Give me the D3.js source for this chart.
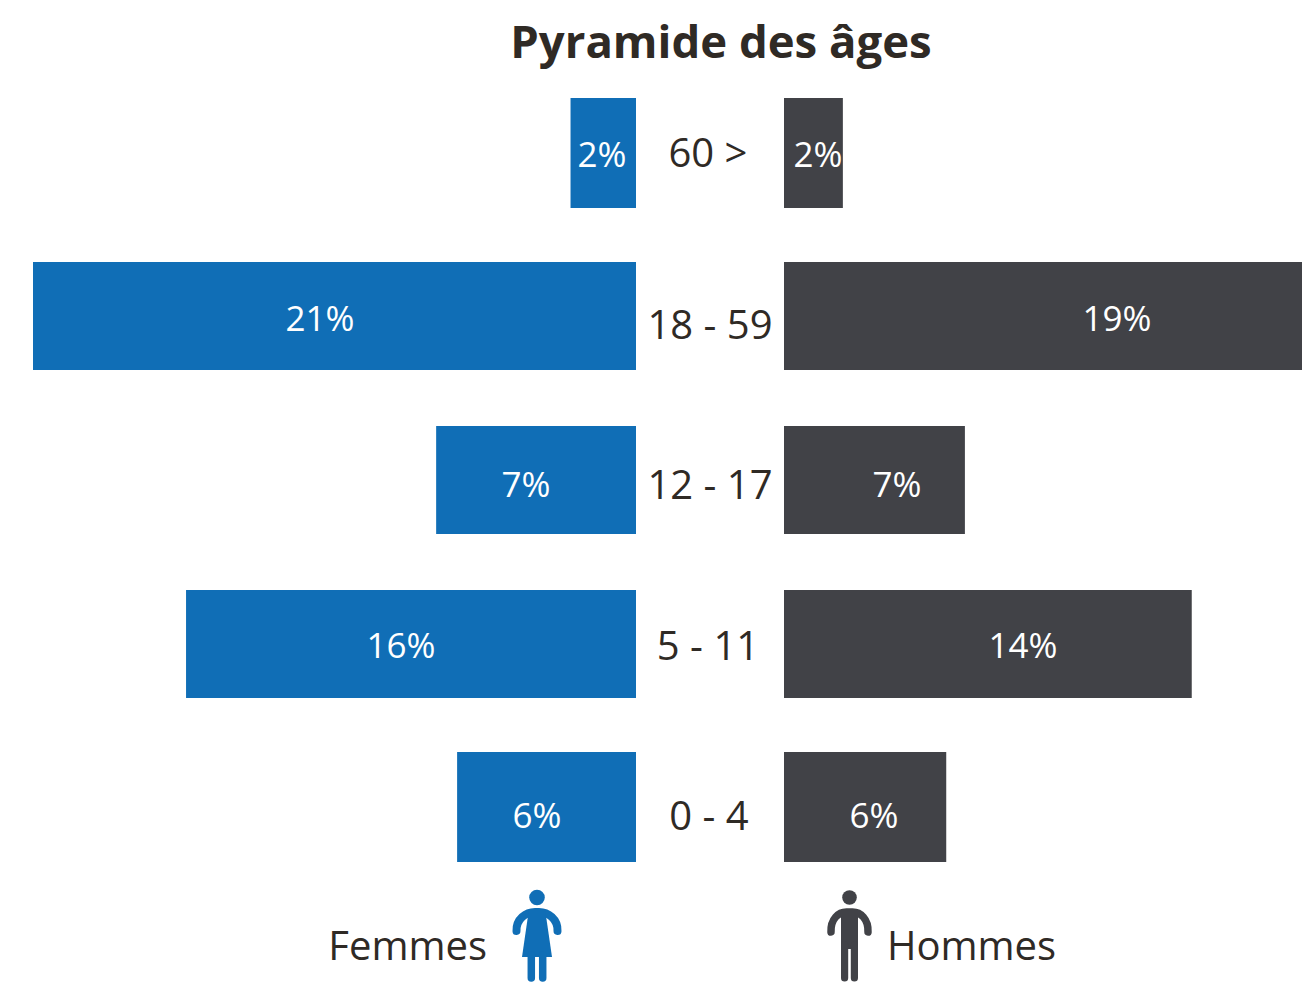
<!DOCTYPE html>
<html>
<head>
<meta charset="utf-8">
<script src="https://cdnjs.cloudflare.com/ajax/libs/d3/7.8.5/d3.min.js"></script>
<style>
  html, body { margin: 0; background: #fff; overflow: hidden; }
  svg { display: block; }
  text { font-family: "Open Sans", sans-serif; }
</style>
</head>
<body>
<div id="my_dataviz"></div>
<script>
var ages = ["60 >", "18 - 59", "12 - 17", "5 - 11", "0 - 4"];
// bar lengths, in % of population
var femmes = [2.28, 21, 6.96, 15.67, 6.23];
var hommes = [2.05, 19, 6.3, 14.2, 5.65];
// the labels as printed, they are rounded differently from the bars
var femmesLabels = ["2%", "21%", "7%", "16%", "6%"];
var hommesLabels = ["2%", "19%", "7%", "14%", "6%"];

// the original places its labels by hand: px from the centre gap, and baselines
var femmesLabelDx = [34, 316, 110, 235, 99];
var hommesLabelDx = [34, 333, 113, 239, 90];
var valueBaseline = [167, 331, 497, 658, 828];
var ageBaseline = [167, 339, 499, 660, 830];
var ageCentre = [708, 710, 710, 708, 709];

var width = 1302, height = 985;
var blue = "#106eb6", dark = "#414247", ink = "#2f2a25";
var leftEdge = 636, rightEdge = 784;

var svg = d3.select("#my_dataviz")
    .append("svg")
    .attr("width", width)
    .attr("height", height);

var y = d3.scaleBand()
    .domain(ages)
    .range([98, 862])
    .paddingInner(56 / 164)
    .paddingOuter(0);

var len = d3.scaleLinear()
    .domain([0, 21])
    .range([0, 603]);

// first and last row are 2px taller in the original
function barY(d, i) { return y(ages[i]) - (i == ages.length - 1 ? 2 : 0); }
function barH(d, i) { return y.bandwidth() + (i == 0 || i == ages.length - 1 ? 2 : 0); }

svg.append("g").selectAll("rect")
    .data(femmes)
    .join("rect")
    .attr("x", d => leftEdge - len(d))
    .attr("y", barY)
    .attr("width", d => len(d))
    .attr("height", barH)
    .attr("fill", blue);

svg.append("g").selectAll("rect")
    .data(hommes)
    .join("rect")
    .attr("x", rightEdge)
    .attr("y", barY)
    .attr("width", d => len(d))
    .attr("height", barH)
    .attr("fill", dark);

svg.append("g").selectAll("text")
    .data(femmesLabels)
    .join("text")
    .attr("x", (d, i) => leftEdge - femmesLabelDx[i])
    .attr("y", (d, i) => valueBaseline[i])
    .attr("text-anchor", "middle")
    .attr("font-size", 35)
    .attr("fill", "#fff")
    .text(d => d);

svg.append("g").selectAll("text")
    .data(hommesLabels)
    .join("text")
    .attr("x", (d, i) => rightEdge + hommesLabelDx[i])
    .attr("y", (d, i) => valueBaseline[i])
    .attr("text-anchor", "middle")
    .attr("font-size", 35)
    .attr("fill", "#fff")
    .text(d => d);

svg.append("g").selectAll("text")
    .data(ages)
    .join("text")
    .attr("x", (d, i) => ageCentre[i])
    .attr("y", (d, i) => ageBaseline[i])
    .attr("text-anchor", "middle")
    .attr("font-size", 40)
    .attr("fill", ink)
    .text(d => d);

svg.append("text")
    .attr("x", 721)
    .attr("y", 58)
    .attr("text-anchor", "middle")
    .attr("font-size", 45.5)
    .attr("font-weight", 700)
    .attr("fill", ink)
    .text("Pyramide des âges");

svg.append("text")
    .attr("x", 487)
    .attr("y", 960)
    .attr("text-anchor", "end")
    .attr("font-size", 40)
    .attr("fill", ink)
    .text("Femmes");

svg.append("text")
    .attr("x", 887)
    .attr("y", 960)
    .attr("font-size", 40)
    .attr("fill", ink)
    .text("Hommes");

// pictograms
var woman = svg.append("g").attr("transform", "translate(537,0)").attr("fill", blue);
woman.append("circle").attr("cy", 897.5).attr("r", 7.8);
woman.append("path")
    .attr("fill", "none")
    .attr("stroke", blue)
    .attr("stroke-width", 8)
    .attr("stroke-linecap", "round")
    .attr("d", "M-20.5,931 C-21,919 -11,912 -2,912 L2,912 C11,912 21,919 20.5,931");
woman.append("path").attr("d", "M-8,909 L8,909 L15,957 L-15,957 Z");
woman.append("path")
    .attr("fill", "none")
    .attr("stroke", blue)
    .attr("stroke-width", 7.5)
    .attr("stroke-linecap", "round")
    .attr("d", "M-5.7,955 L-5.7,978 M5.7,955 L5.7,978");

var man = svg.append("g").attr("transform", "translate(849.5,0)").attr("fill", dark);
man.append("circle").attr("cy", 897.5).attr("r", 7.3);
man.append("path")
    .attr("fill", "none")
    .attr("stroke", dark)
    .attr("stroke-width", 7.5)
    .attr("stroke-linecap", "round")
    .attr("d", "M-18.5,932 C-19,919 -11,912 -3,912 L3,912 C11,912 19,919 18.5,932");
man.append("rect").attr("x", -8.5).attr("y", 909).attr("width", 17).attr("height", 40);
man.append("path")
    .attr("fill", "none")
    .attr("stroke", dark)
    .attr("stroke-width", 7.2)
    .attr("stroke-linecap", "round")
    .attr("d", "M-4.9,945 L-4.9,978 M4.9,945 L4.9,978");
</script>
</body>
</html>
